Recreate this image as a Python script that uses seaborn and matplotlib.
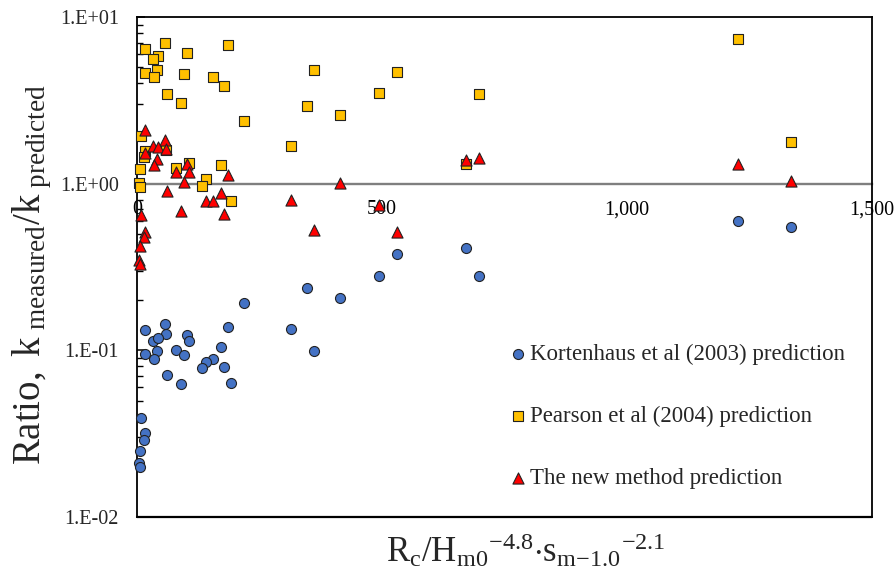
import matplotlib
matplotlib.use("Agg")
import matplotlib.pyplot as plt
from matplotlib.ticker import FixedLocator, NullFormatter
import seaborn as sns

# Kortenhaus et al (2003): x = Rc/Hm0^-4.8 * s^-2.1, y = k_measured / k_predicted
kort_x = [218.4, 16.3, 57.8, 59.8, 32.7, 43.5, 186.3, 102.0, 105.3, 16.3,
          40.8, 35.3, 79.6, 95.9, 171.4, 154.3, 140.8, 133.3, 176.7, 61.8,
          90.4, 192.4, 8.8, 15.5, 13.5, 6.1, 4.1, 6.1, 314.3, 347.6,
          361.2, 413.5, 494.5, 530.6, 672.0, 697.1, 1225.7, 1335.3]
kort_y = [0.191, 0.132, 0.144, 0.126, 0.114, 0.119, 0.138, 0.124, 0.113, 0.095,
          0.099, 0.089, 0.100, 0.094, 0.104, 0.089, 0.085, 0.078, 0.079, 0.071,
          0.063, 0.064, 0.039, 0.032, 0.029, 0.025, 0.021, 0.020, 0.135, 0.237,
          0.099, 0.207, 0.279, 0.376, 0.410, 0.278, 0.596, 0.546]

# Pearson et al (2004)
pear_x = [57.8, 16.3, 186.3, 102.0, 43.5, 32.7, 40.8, 16.3, 35.3, 95.9,
          154.3, 176.7, 61.8, 90.4, 218.4, 8.8, 15.5, 13.5, 59.8, 6.1,
          79.6, 105.3, 4.1, 6.1, 171.4, 140.8, 133.3, 192.4, 361.2, 530.6,
          494.5, 347.6, 413.5, 314.3, 672.0, 697.1, 1225.7, 1335.3]
pear_y = [6.99, 6.44, 6.75, 6.04, 5.82, 5.56, 4.84, 4.62, 4.34, 4.54,
          4.34, 3.85, 3.46, 3.05, 2.37, 1.93, 1.57, 1.45, 1.59, 1.22,
          1.25, 1.33, 1.01, 0.96, 1.29, 1.06, 0.97, 0.79, 4.80, 4.66,
          3.48, 2.94, 2.57, 1.68, 1.32, 3.44, 7.39, 1.77]

# New method
new_x = [16.3, 57.8, 32.7, 43.5, 59.8, 16.3, 40.8, 35.3, 102.0, 105.3,
         79.6, 186.3, 95.9, 61.8, 171.4, 140.8, 154.3, 90.4, 176.7, 8.8,
         15.5, 13.5, 6.1, 4.1, 6.1, 314.3, 361.2, 413.5, 494.5, 530.6,
         672.0, 697.1, 1225.7, 1335.3]
new_y = [2.11, 1.84, 1.68, 1.65, 1.62, 1.52, 1.40, 1.30, 1.32, 1.18,
         1.17, 1.12, 1.02, 0.90, 0.88, 0.79, 0.79, 0.69, 0.66, 0.65,
         0.51, 0.48, 0.42, 0.35, 0.33, 0.80, 0.53, 1.01, 0.74, 0.51,
         1.38, 1.43, 1.31, 1.04]

series_labels = ["Kortenhaus et al (2003) prediction",
                 "Pearson et al (2004) prediction",
                 "The new method prediction"]

x_ticks = [0, 500, 1000, 1500]
x_ticklabels = ["0", "500", "1,000", "1,500"]
y_ticks = [0.01, 0.1, 1, 10]
y_ticklabels = ["1.E-02", "1.E-01", "1.E+00", "1.E+01"]

sns.set_theme(style="white")
plt.rcParams["font.family"] = ["Liberation Serif", "DejaVu Serif"]
plt.rcParams["mathtext.fontset"] = "custom"
plt.rcParams["mathtext.rm"] = "Liberation Serif"
plt.rcParams["mathtext.it"] = "Liberation Serif:italic"
plt.rcParams["mathtext.bf"] = "Liberation Serif:bold"

W, H = 895, 579
fig = plt.figure(figsize=(W / 100, H / 100), dpi=100)
fig.patch.set_facecolor("white")
ax = fig.add_axes([137 / W, 1 - 517 / H, 735 / W, 500 / H])

edge = "#222222"
sns.scatterplot(x=kort_x, y=kort_y, marker="o", s=52, color="#4472C4",
                edgecolor=edge, linewidth=0.8, label=series_labels[0],
                ax=ax, zorder=3, clip_on=False)
sns.scatterplot(x=pear_x, y=pear_y, marker="s", s=50, color="#FFC000",
                edgecolor=edge, linewidth=0.8, label=series_labels[1],
                ax=ax, zorder=4, clip_on=False)
sns.scatterplot(x=new_x, y=new_y, marker="^", s=64, color="#FF0000",
                edgecolor=edge, linewidth=0.8, label=series_labels[2],
                ax=ax, zorder=5, clip_on=False)

ax.set_yscale("log")
ax.set_ylim(0.01, 10)
ax.set_xlim(0, 1500)

ax.yaxis.set_major_locator(FixedLocator(y_ticks))
ax.set_yticklabels(y_ticklabels)
minor = [m * d for d in (0.01, 0.1, 1) for m in range(2, 10)]
ax.yaxis.set_minor_locator(FixedLocator(minor))
ax.yaxis.set_minor_formatter(NullFormatter())
ax.tick_params(axis="y", which="major", direction="in", length=6, width=1.1,
               color="black", labelsize=14.5, pad=13, left=True, right=False)
ax.tick_params(axis="y", which="minor", direction="in", length=4, width=1.0,
               color="black", left=True, right=False)

# horizontal axis crosses at ratio = 1
ax.set_xticks(x_ticks)
ax.set_xticklabels(x_ticklabels)
ax.spines["bottom"].set_position(("data", 1))
ax.spines["bottom"].set_color("#7f7f7f")
ax.spines["bottom"].set_linewidth(1.7)
ax.spines["bottom"].set_zorder(2)
ax.tick_params(axis="x", which="major", direction="inout", length=10,
               width=1.0, color="#7f7f7f", labelsize=14.5, pad=7,
               labelcolor="black")
ax.set_xlabel("")
ax.set_ylabel("")

for side in ("left", "right", "top"):
    ax.spines[side].set_visible(True)
    ax.spines[side].set_color("black")
    ax.spines[side].set_linewidth(1.3)
ax.plot([0, 1], [0, 0], transform=ax.transAxes, color="black", lw=1.6,
        clip_on=False, zorder=6)

leg = ax.legend(loc="upper left", bbox_to_anchor=((511 - 137) / 735, (517 - 344) / 500),
                frameon=False, fontsize=16.5, labelspacing=1.78, handlelength=0.6,
                handletextpad=0.25, borderpad=0, borderaxespad=0, markerscale=1.0)

fig.text(32 / W, 1 - 275 / H,
         r"$\mathrm{Ratio,\ k_{\ measured}/k_{\ predicted}}$",
         rotation=90, ha="center", va="center", fontsize=28)
fig.text(526 / W, 1 - 551 / H,
         r"$\mathrm{R_c/{H_{m0}}^{-4.8}{\cdot}{s_{m{-}1.0}}^{-2.1}}$",
         ha="center", va="center", fontsize=25)

fig.savefig("out.png", dpi=100, facecolor="white")
